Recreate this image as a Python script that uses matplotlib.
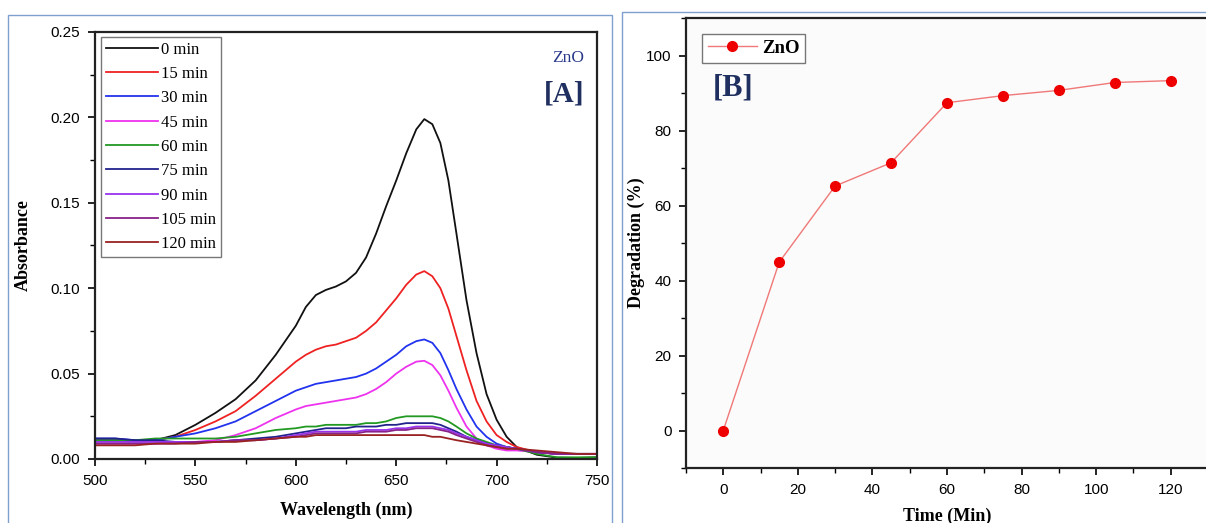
import matplotlib
matplotlib.use("Agg")
import matplotlib.pyplot as plt
import numpy as np
from matplotlib.patches import Rectangle
from matplotlib.ticker import MultipleLocator

# ---- panel A: UV-vis spectra ----
wavelength = [500, 510, 520, 530, 540, 550, 560, 570, 580, 590, 600, 605, 610, 615, 620, 625,
              630, 635, 640, 645, 650, 655, 660, 664, 668, 672, 676, 680, 685, 690, 695, 700,
              705, 710, 720, 730, 740, 750]

abs_0 = [0.011, 0.011, 0.011, 0.011, 0.014, 0.020, 0.027, 0.035, 0.046, 0.061, 0.078, 0.089, 0.096,
         0.099, 0.101, 0.104, 0.109, 0.118, 0.132, 0.148, 0.163, 0.179, 0.193, 0.199, 0.196, 0.185,
         0.163, 0.132, 0.093, 0.062, 0.038, 0.023, 0.013, 0.007, 0.0025, 0.0008, 0.0006, 0.001]
abs_15 = [0.011, 0.011, 0.011, 0.011, 0.013, 0.017, 0.022, 0.028, 0.037, 0.047, 0.057, 0.061, 0.064,
          0.066, 0.067, 0.069, 0.071, 0.075, 0.080, 0.087, 0.094, 0.102, 0.108, 0.110, 0.107, 0.100,
          0.088, 0.072, 0.052, 0.034, 0.022, 0.014, 0.010, 0.007, 0.004, 0.003, 0.003, 0.003]
abs_30 = [0.012, 0.012, 0.011, 0.011, 0.013, 0.015, 0.018, 0.022, 0.028, 0.034, 0.040, 0.042, 0.044,
          0.045, 0.046, 0.047, 0.048, 0.050, 0.053, 0.057, 0.061, 0.066, 0.069, 0.070, 0.068, 0.062,
          0.052, 0.041, 0.029, 0.019, 0.013, 0.009, 0.007, 0.006, 0.004, 0.003, 0.003, 0.003]
abs_45 = [0.009, 0.009, 0.009, 0.009, 0.010, 0.010, 0.011, 0.014, 0.018, 0.024, 0.029, 0.031, 0.032,
          0.033, 0.034, 0.035, 0.036, 0.038, 0.041, 0.045, 0.050, 0.054, 0.057, 0.0575, 0.055, 0.049,
          0.040, 0.030, 0.019, 0.012, 0.008, 0.006, 0.005, 0.005, 0.004, 0.003, 0.003, 0.003]
abs_60 = [0.011, 0.011, 0.011, 0.012, 0.012, 0.012, 0.012, 0.013, 0.015, 0.017, 0.018, 0.019, 0.019,
          0.020, 0.020, 0.020, 0.020, 0.021, 0.021, 0.022, 0.024, 0.025, 0.025, 0.025, 0.025, 0.024,
          0.022, 0.019, 0.015, 0.012, 0.010, 0.008, 0.007, 0.006, 0.003, 0.001, 0.001, 0.001]
abs_75 = [0.012, 0.012, 0.011, 0.011, 0.010, 0.010, 0.010, 0.011, 0.012, 0.013, 0.015, 0.016, 0.017,
          0.018, 0.018, 0.018, 0.019, 0.019, 0.019, 0.020, 0.020, 0.021, 0.021, 0.021, 0.021, 0.020,
          0.018, 0.016, 0.013, 0.011, 0.009, 0.008, 0.007, 0.006, 0.004, 0.003, 0.003, 0.003]
abs_90 = [0.010, 0.010, 0.010, 0.010, 0.010, 0.010, 0.010, 0.011, 0.011, 0.012, 0.014, 0.015, 0.016,
          0.016, 0.016, 0.016, 0.016, 0.017, 0.017, 0.017, 0.018, 0.018, 0.019, 0.019, 0.019, 0.018,
          0.017, 0.015, 0.013, 0.011, 0.009, 0.008, 0.007, 0.006, 0.004, 0.003, 0.003, 0.003]
abs_105 = [0.009, 0.009, 0.009, 0.009, 0.009, 0.010, 0.010, 0.011, 0.011, 0.012, 0.013, 0.014, 0.015,
           0.015, 0.015, 0.015, 0.015, 0.016, 0.016, 0.016, 0.017, 0.017, 0.018, 0.018, 0.018, 0.017,
           0.016, 0.014, 0.012, 0.010, 0.008, 0.007, 0.006, 0.006, 0.004, 0.003, 0.003, 0.003]
abs_120 = [0.008, 0.008, 0.008, 0.009, 0.009, 0.009, 0.010, 0.010, 0.011, 0.012, 0.013, 0.013, 0.014,
           0.014, 0.014, 0.014, 0.014, 0.014, 0.014, 0.014, 0.014, 0.014, 0.014, 0.014, 0.013, 0.013,
           0.012, 0.011, 0.010, 0.009, 0.008, 0.007, 0.006, 0.006, 0.005, 0.004, 0.003, 0.003]

spectra = [abs_0, abs_15, abs_30, abs_45, abs_60, abs_75, abs_90, abs_105, abs_120]
labels_A = ['0 min', '15 min', '30 min', '45 min', '60 min', '75 min', '90 min', '105 min', '120 min']
colors_A = ['#111111', '#ee2222', '#2233ee', '#ee33ee', '#229922', '#22228c', '#9933ee', '#882288', '#992222']

# ---- panel B: degradation ----
time_min = [0, 15, 30, 45, 60, 75, 90, 105, 120]
degradation = [0, 44.9, 65.2, 71.4, 87.4, 89.3, 90.7, 92.8, 93.3]

serif = 'Liberation Serif'
sans = 'Liberation Sans'
navy = '#1f2f60'

fig = plt.figure(figsize=(12.06, 5.23), dpi=100)

# blue panel frames
for x0, y0, w, h in [(8, 15, 604, 520), (622, 12, 600, 520)]:
    fig.patches.append(Rectangle((x0 / 1206, 1 - (y0 + h) / 523), w / 1206, h / 523,
                                 transform=fig.transFigure, fill=False,
                                 edgecolor='#7f9fcf', linewidth=1.0))


def style_axes(ax):
    ax.tick_params(which='major', direction='out', length=5, width=1.2, labelsize=11, pad=5.5)
    ax.tick_params(which='minor', direction='out', length=3.5, width=1.0)
    for lab in ax.get_xticklabels() + ax.get_yticklabels():
        lab.set_family(sans)
    for s in ax.spines.values():
        s.set_linewidth(1.6)
        s.set_color('#222222')


# panel A
axA = fig.add_axes([95 / 1206, 1 - 459 / 523, 502 / 1206, 427 / 523])
for y, lab, c in zip(spectra, labels_A, colors_A):
    axA.plot(wavelength, y, color=c, lw=1.3, label=lab)
axA.set_xlim(500, 750)
axA.set_ylim(0, 0.25)
axA.xaxis.set_major_locator(MultipleLocator(50))
axA.xaxis.set_minor_locator(MultipleLocator(25))
axA.yaxis.set_major_locator(MultipleLocator(0.05))
axA.yaxis.set_minor_locator(MultipleLocator(0.025))
axA.yaxis.set_major_formatter(matplotlib.ticker.FormatStrFormatter('%.2f'))
style_axes(axA)
axA.set_xlabel('Wavelength (nm)', family=serif, fontweight='bold', fontsize=13, labelpad=10)
axA.set_ylabel('Absorbance', family=serif, fontweight='bold', fontsize=13, labelpad=14)
leg = axA.legend(loc='upper left', bbox_to_anchor=(0.006, 0.997), prop={'family': serif, 'size': 12},
                 handlelength=3.1, handletextpad=0.2, labelspacing=0.5, borderpad=0.3,
                 borderaxespad=0.2, fancybox=False, framealpha=1, edgecolor='#777777')
leg.get_frame().set_linewidth(1.0)
axA.text(0.975, 0.94, 'ZnO', transform=axA.transAxes, ha='right', va='center',
         family=serif, fontsize=12.5, color='#2a3a8a')
axA.text(0.975, 0.855, '[A]', transform=axA.transAxes, ha='right', va='center',
         family=serif, fontsize=21, fontweight='bold', color=navy)

# panel B
axB = fig.add_axes([686 / 1206, 1 - 468 / 523, 522 / 1206, 450 / 523])
axB.set_facecolor('#fbfbfb')
axB.plot(time_min, degradation, color='#f07878', lw=1.0, marker='o', markersize=7,
         markerfacecolor='#ee0000', markeredgecolor='#ee0000', label='ZnO')
axB.set_xlim(-10, 130)
axB.set_ylim(-10, 110)
axB.xaxis.set_major_locator(MultipleLocator(20))
axB.xaxis.set_minor_locator(MultipleLocator(10))
axB.yaxis.set_major_locator(MultipleLocator(20))
axB.yaxis.set_minor_locator(MultipleLocator(10))
style_axes(axB)
axB.set_xlabel('Time (Min)', family=serif, fontweight='bold', fontsize=13, labelpad=8)
axB.set_ylabel('Degradation (%)', family=serif, fontweight='bold', fontsize=13, labelpad=1)
legB = axB.legend(loc='upper left', bbox_to_anchor=(0.013, 0.985), prop={'family': serif, 'size': 13.5, 'weight': 'bold'},
                  handlelength=2.6, handletextpad=0.3, borderpad=0.3,
                  fancybox=False, framealpha=1, edgecolor='#777777')
legB.get_frame().set_linewidth(1.0)
axB.text(0.052, 0.845, '[B]', transform=axB.transAxes, ha='left', va='center',
         family=serif, fontsize=22, fontweight='bold', color=navy)

fig.savefig('out.png', dpi=100)
